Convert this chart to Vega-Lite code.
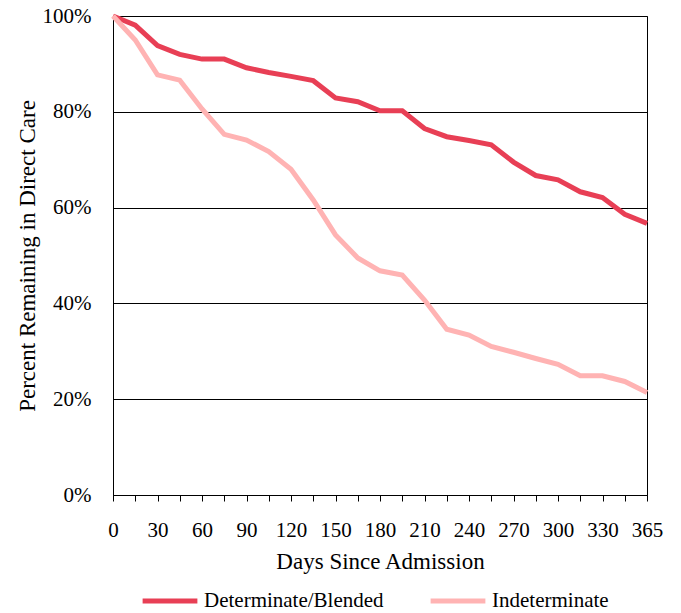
{
  "$schema": "https://vega.github.io/schema/vega-lite/v6.json",
  "autosize": "none",
  "width": 534,
  "height": 479,
  "padding": {"left": 113, "top": 16, "right": 34, "bottom": 118},
  "background": "white",
  "config": {
    "font": "Liberation Serif",
    "view": {"stroke": "#000", "strokeWidth": 1}
  },
  "data": {
    "values": [
      {"day": 0, "series": "Determinate/Blended", "pct": 100},
      {"day": 15, "series": "Determinate/Blended", "pct": 98.1},
      {"day": 30, "series": "Determinate/Blended", "pct": 93.8},
      {"day": 45, "series": "Determinate/Blended", "pct": 92.0},
      {"day": 60, "series": "Determinate/Blended", "pct": 91.0},
      {"day": 75, "series": "Determinate/Blended", "pct": 91.0},
      {"day": 90, "series": "Determinate/Blended", "pct": 89.2},
      {"day": 105, "series": "Determinate/Blended", "pct": 88.2},
      {"day": 120, "series": "Determinate/Blended", "pct": 87.4},
      {"day": 135, "series": "Determinate/Blended", "pct": 86.5},
      {"day": 150, "series": "Determinate/Blended", "pct": 82.9},
      {"day": 165, "series": "Determinate/Blended", "pct": 82.1},
      {"day": 180, "series": "Determinate/Blended", "pct": 80.2},
      {"day": 195, "series": "Determinate/Blended", "pct": 80.2},
      {"day": 210, "series": "Determinate/Blended", "pct": 76.5},
      {"day": 225, "series": "Determinate/Blended", "pct": 74.8},
      {"day": 240, "series": "Determinate/Blended", "pct": 74.0},
      {"day": 255, "series": "Determinate/Blended", "pct": 73.1},
      {"day": 270, "series": "Determinate/Blended", "pct": 69.5},
      {"day": 285, "series": "Determinate/Blended", "pct": 66.7},
      {"day": 300, "series": "Determinate/Blended", "pct": 65.8},
      {"day": 315, "series": "Determinate/Blended", "pct": 63.3},
      {"day": 330, "series": "Determinate/Blended", "pct": 62.1},
      {"day": 345, "series": "Determinate/Blended", "pct": 58.6},
      {"day": 365, "series": "Determinate/Blended", "pct": 56.7},
      {"day": 0, "series": "Indeterminate", "pct": 100},
      {"day": 15, "series": "Indeterminate", "pct": 95.0},
      {"day": 30, "series": "Indeterminate", "pct": 87.7},
      {"day": 45, "series": "Indeterminate", "pct": 86.6},
      {"day": 60, "series": "Indeterminate", "pct": 80.6},
      {"day": 75, "series": "Indeterminate", "pct": 75.3},
      {"day": 90, "series": "Indeterminate", "pct": 74.1},
      {"day": 105, "series": "Indeterminate", "pct": 71.7},
      {"day": 120, "series": "Indeterminate", "pct": 68.0},
      {"day": 135, "series": "Indeterminate", "pct": 61.6},
      {"day": 150, "series": "Indeterminate", "pct": 54.3},
      {"day": 165, "series": "Indeterminate", "pct": 49.5},
      {"day": 180, "series": "Indeterminate", "pct": 46.8},
      {"day": 195, "series": "Indeterminate", "pct": 45.9},
      {"day": 210, "series": "Indeterminate", "pct": 40.7},
      {"day": 225, "series": "Indeterminate", "pct": 34.6},
      {"day": 240, "series": "Indeterminate", "pct": 33.4},
      {"day": 255, "series": "Indeterminate", "pct": 31.0},
      {"day": 270, "series": "Indeterminate", "pct": 29.8},
      {"day": 285, "series": "Indeterminate", "pct": 28.5},
      {"day": 300, "series": "Indeterminate", "pct": 27.3},
      {"day": 315, "series": "Indeterminate", "pct": 24.9},
      {"day": 330, "series": "Indeterminate", "pct": 24.9},
      {"day": 345, "series": "Indeterminate", "pct": 23.7},
      {"day": 365, "series": "Indeterminate", "pct": 21.4}
    ]
  },
  "mark": {"type": "line", "strokeWidth": 5, "strokeJoin": "miter", "strokeCap": "butt"},
  "encoding": {
    "x": {
      "field": "day",
      "type": "ordinal",
      "sort": "ascending",
      "scale": {"type": "point", "padding": 0},
      "axis": {
        "title": "Days Since Admission",
        "titleFont": "Liberation Serif",
        "titleFontSize": 23,
        "titleFontWeight": "normal",
        "titleColor": "#000",
        "titlePadding": 10,
        "labelAngle": 0,
        "labelFontSize": 21,
        "labelColor": "#000",
        "labelPadding": 18,
        "labelExpr": "(datum.value % 30 == 0 || datum.value == 365) ? datum.label : ''",
        "labelOverlap": false,
        "tickColor": "#000",
        "tickSize": 6,
        "domainColor": "#000",
        "grid": false
      }
    },
    "y": {
      "field": "pct",
      "type": "quantitative",
      "scale": {"domain": [0, 100], "nice": false},
      "axis": {
        "title": "Percent Remaining in Direct Care",
        "titleFont": "Liberation Serif",
        "titleFontSize": 23,
        "titleFontWeight": "normal",
        "titleColor": "#000",
        "titlePadding": 3,
        "values": [0, 20, 40, 60, 80, 100],
        "labelExpr": "datum.value + '%'",
        "labelFontSize": 21,
        "labelColor": "#000",
        "labelPadding": 22,
        "ticks": false,
        "domainColor": "#000",
        "grid": true,
        "gridColor": "#000",
        "gridOpacity": 1
      }
    },
    "color": {
      "field": "series",
      "type": "nominal",
      "scale": {"domain": ["Determinate/Blended", "Indeterminate"], "range": ["#E83F55", "#FFB3B3"]},
      "legend": {
        "title": null,
        "orient": "none",
        "direction": "horizontal",
        "legendX": 27,
        "legendY": 555,
        "symbolType": "stroke",
        "symbolStrokeWidth": 5,
        "symbolSize": 3000,
        "labelFontSize": 21,
        "labelLimit": 400,
        "labelColor": "#000",
        "columnPadding": 36,
        "labelOffset": 4
      }
    }
  }
}
